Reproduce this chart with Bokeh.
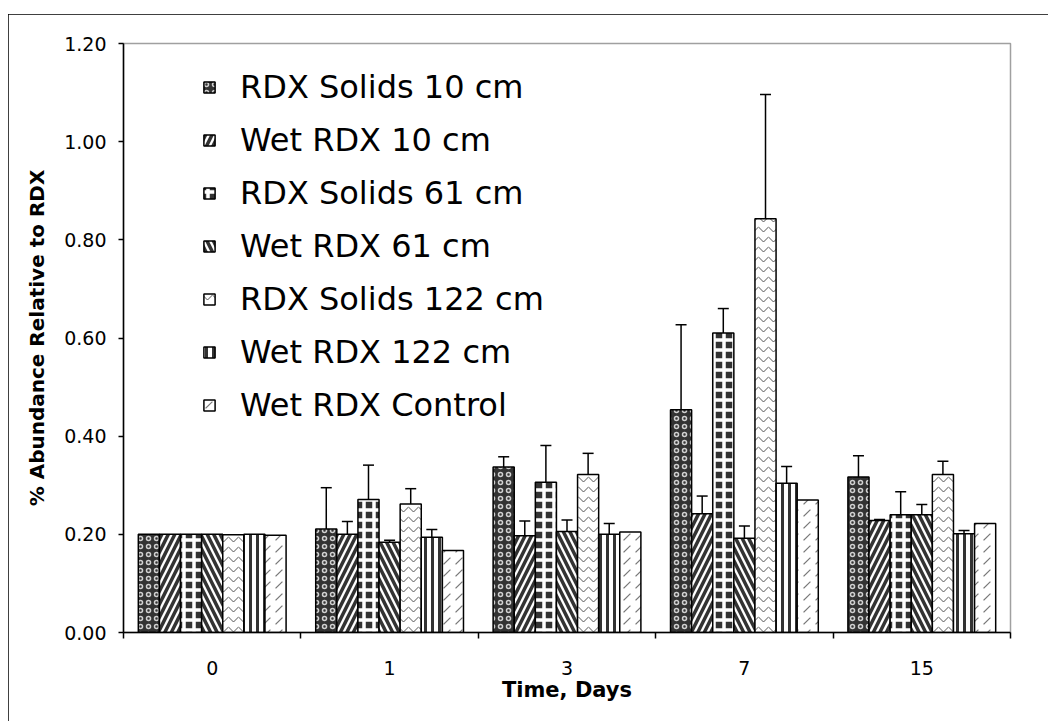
from bokeh.plotting import figure
from bokeh.models import (Range1d, FixedTicker, NumeralTickFormatter, ColumnDataSource,
                          Whisker, TeeHead, Legend, LegendItem)
from bokeh.embed import file_html
from bokeh.resources import INLINE

# ---------------- data ----------------
days = ["0", "1", "3", "7", "15"]
series = ["RDX Solids 10 cm", "Wet RDX 10 cm", "RDX Solids 61 cm", "Wet RDX 61 cm",
          "RDX Solids 122 cm", "Wet RDX 122 cm", "Wet RDX Control"]
solids_10 = [0.200, 0.211, 0.337, 0.454, 0.317]
solids_10_err = [0.0, 0.084, 0.021, 0.173, 0.043]
wet_10 = [0.200, 0.200, 0.197, 0.242, 0.228]
wet_10_err = [0.0, 0.026, 0.030, 0.036, 0.002]
solids_61 = [0.200, 0.271, 0.306, 0.610, 0.240]
solids_61_err = [0.0, 0.070, 0.075, 0.050, 0.047]
wet_61 = [0.200, 0.184, 0.206, 0.192, 0.240]
wet_61_err = [0.0, 0.004, 0.023, 0.025, 0.021]
solids_122 = [0.199, 0.262, 0.322, 0.843, 0.322]
solids_122_err = [0.0, 0.031, 0.043, 0.253, 0.027]
wet_122 = [0.200, 0.194, 0.200, 0.304, 0.201]
wet_122_err = [0.0, 0.016, 0.022, 0.034, 0.007]
control = [0.198, 0.167, 0.205, 0.270, 0.222]
control_err = [0.0, 0.0, 0.0, 0.0, 0.0]
y_ticks = [0.0, 0.2, 0.4, 0.6, 0.8, 1.0, 1.2]

values = [solids_10, wet_10, solids_61, wet_61, solids_122, wet_122, control]
errors = [solids_10_err, wet_10_err, solids_61_err, wet_61_err, solids_122_err, wet_122_err, control_err]

styles = [
    dict(fill_color="#333333", hatch_pattern="ring", hatch_color="#d0d0d0",
         hatch_weight=1.5, hatch_scale=8),
    dict(fill_color="white", hatch_pattern="right_diagonal_line", hatch_color="#333333",
         hatch_weight=3.5, hatch_scale=13),
    dict(fill_color="#333333", hatch_pattern="cross", hatch_color="white",
         hatch_weight=3.5, hatch_scale=10),
    dict(fill_color="white", hatch_pattern="left_diagonal_line", hatch_color="#333333",
         hatch_weight=3.5, hatch_scale=13),
    dict(fill_color="white", hatch_pattern="horizontal_wave", hatch_color="#555555",
         hatch_weight=1, hatch_scale=10),
    dict(fill_color="white", hatch_pattern="vertical_line", hatch_color="#333333",
         hatch_weight=3, hatch_scale=7),
    dict(fill_color="white", hatch_pattern="right_diagonal_dash", hatch_color="#777777",
         hatch_weight=1.2, hatch_scale=12),
]

# ---------------- figure ----------------
p = figure(width=1040, height=707, output_backend="svg", toolbar_location=None,
           x_range=Range1d(0, len(days)), y_range=Range1d(0, 1.2),
           min_border_left=115, min_border_top=29, min_border_right=38, min_border_bottom=89,
           margin=(14, 0, 0, 8))
p.styles = {"outline": "1.5px solid black", "outline-offset": "-1px"}
p.grid.visible = False
p.outline_line_color = "#a0a0a0"
p.outline_line_width = 1.5
p.background_fill_color = "white"
p.border_fill_color = "white"

bar_w = 0.119
items = []
for j, (name, vals, errs, st) in enumerate(zip(series, values, errors, styles)):
    xs = [i + 0.5 + (j - 3) * bar_w for i in range(len(days))]
    src = ColumnDataSource(dict(x=xs, top=vals))
    r = p.vbar(x="x", top="top", width=bar_w, source=src, line_color="black", line_width=1.5, **st)
    items.append(LegendItem(label=name, renderers=[r]))
    ex = [x for x, e in zip(xs, errs) if e > 0]
    up = [v + e for v, e in zip(vals, errs) if e > 0]
    lo = [v - e for v, e in zip(vals, errs) if e > 0]
    if ex:
        esrc = ColumnDataSource(dict(x=ex, upper=up, lower=lo))
        wk = Whisker(base="x", upper="upper", lower="lower", source=esrc,
                     line_color="black", line_width=1.5,
                     upper_head=TeeHead(size=11, line_width=1.5, line_color="black"),
                     lower_head=TeeHead(size=11, line_width=1.5, line_color="black"))
        p.add_layout(wk)

legend = Legend(items=items, location=(79, 205), border_line_color=None,
                background_fill_alpha=0, padding=0, margin=0, spacing=9,
                label_height=44, glyph_height=14, glyph_width=14, label_standoff=24,
                label_text_font="DejaVu Sans", label_text_font_size="32px",
                label_text_color="black")
p.add_layout(legend)

# x axis: labels at category centers, ticks at boundaries
xa = p.xaxis[0]
xa.ticker = FixedTicker(ticks=[i + 0.5 for i in range(len(days))],
                        minor_ticks=list(range(len(days) + 1)))
xa.major_label_overrides = {i + 0.5: d for i, d in enumerate(days)}
xa.major_tick_line_color = None
xa.minor_tick_line_color = "black"
xa.minor_tick_line_width = 1.5
xa.minor_tick_out = 6
xa.minor_tick_in = 0
xa.axis_line_color = "black"
xa.axis_line_width = 1.5
xa.major_label_standoff = 22
xa.major_label_text_font = "DejaVu Sans"
xa.major_label_text_font_size = "19px"
xa.major_label_text_color = "black"
xa.axis_label = "Time, Days"
xa.axis_label_text_font = "DejaVu Sans"
xa.axis_label_text_font_style = "bold"
xa.axis_label_text_font_size = "21px"
xa.axis_label_text_color = "black"
xa.axis_label_standoff = 0

ya = p.yaxis[0]
ya.ticker = FixedTicker(ticks=y_ticks, minor_ticks=[])
ya.formatter = NumeralTickFormatter(format="0.00")
ya.major_tick_out = 5
ya.major_tick_in = 0
ya.major_tick_line_width = 1.5
ya.major_tick_line_color = "black"
ya.axis_line_color = "black"
ya.axis_line_width = 1.5
ya.major_label_standoff = 12
ya.major_label_text_font = "DejaVu Sans"
ya.major_label_text_font_size = "19px"
ya.major_label_text_color = "black"
ya.axis_label = "% Abundance Relative to RDX"
ya.axis_label_text_font = "DejaVu Sans"
ya.axis_label_text_font_style = "bold"
ya.axis_label_text_font_size = "20px"
ya.axis_label_text_color = "black"
ya.axis_label_standoff = 12

open("out.html", "w").write(file_html(p, INLINE))
